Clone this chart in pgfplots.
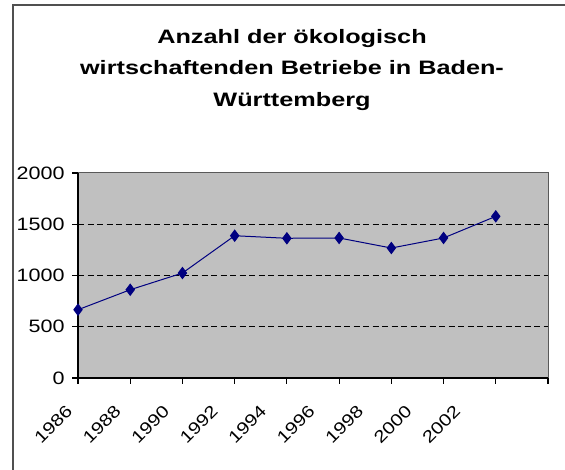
\documentclass[border=0pt]{standalone}
\usepackage{fontspec}
\setmainfont{Liberation Sans}
\newfontfamily\titlefont{Liberation Sans Bold}[FakeStretch=1.3]
\newfontfamily\tickfont{Liberation Sans}[FakeStretch=1.2]
\usepackage{pgfplots}
\pgfplotsset{compat=1.18}
\definecolor{plotbg}{HTML}{C0C0C0}
\definecolor{navyc}{HTML}{000080}
\definecolor{framec}{HTML}{505050}
\begin{document}
\begin{tikzpicture}[x=1bp,y=1bp]
\useasboundingbox (0,0) rectangle (565,470);
\draw[line width=2.2bp, color=framec] (13,0) -- (13,465) -- (565,465);
\node[align=center, font=\titlefont\fontsize{19.5}{31.5}\selectfont] at (292,400) {Anzahl der ökologisch\\wirtschaftenden Betriebe in Baden-\\Württemberg};
\begin{axis}[
  at={(78bp,92bp)}, anchor=south west,
  scale only axis, width=470bp, height=205bp,
  xmin=0, xmax=9, ymin=0, ymax=2000,
  axis x line*=bottom, axis y line*=left,
  axis line style={black, line width=1.2bp, -},
  axis background/.style={fill=plotbg, draw=gray!70!black, line width=1bp},
  xtick={0,1,2,3,4,5,6,7,8,9},
  xticklabels={},
  extra x ticks={0,0.9287,1.8575,2.786,3.715,4.644,5.572,6.501,7.430},
  extra x tick labels={1986,1988,1990,1992,1994,1996,1998,2000,2002},
  extra x tick style={major tick length=0pt, tick label style={rotate=45, anchor=east, xshift=-24bp, yshift=-15bp, font=\tickfont\fontsize{17}{20}\selectfont}},
  ytick={0,500,1000,1500,2000},
  yticklabels={0,500,1000,1500,2000},
  extra y ticks={500,1000,1500},
  extra y tick labels={},
  extra y tick style={grid=major, major tick length=0pt},
  grid style={black, line width=1.2bp, dash pattern=on 6bp off 3.5bp},
  tick align=outside, major tick length=6bp,
  tick style={black, line width=1.2bp},
  tick label style={font=\tickfont\fontsize{18}{20}\selectfont, black},
  y tick label style={xshift=-4bp},
  clip=false,
]
\addplot[color=navyc, line width=1bp, mark=diamond*, mark size=5.5bp, mark options={fill=navyc, draw=navyc}]
 coordinates {(0,666) (1,861) (2,1024) (3,1388) (4,1363) (5,1366) (6,1268) (7,1366) (8,1577)};
\end{axis}
\end{tikzpicture}
\end{document}
